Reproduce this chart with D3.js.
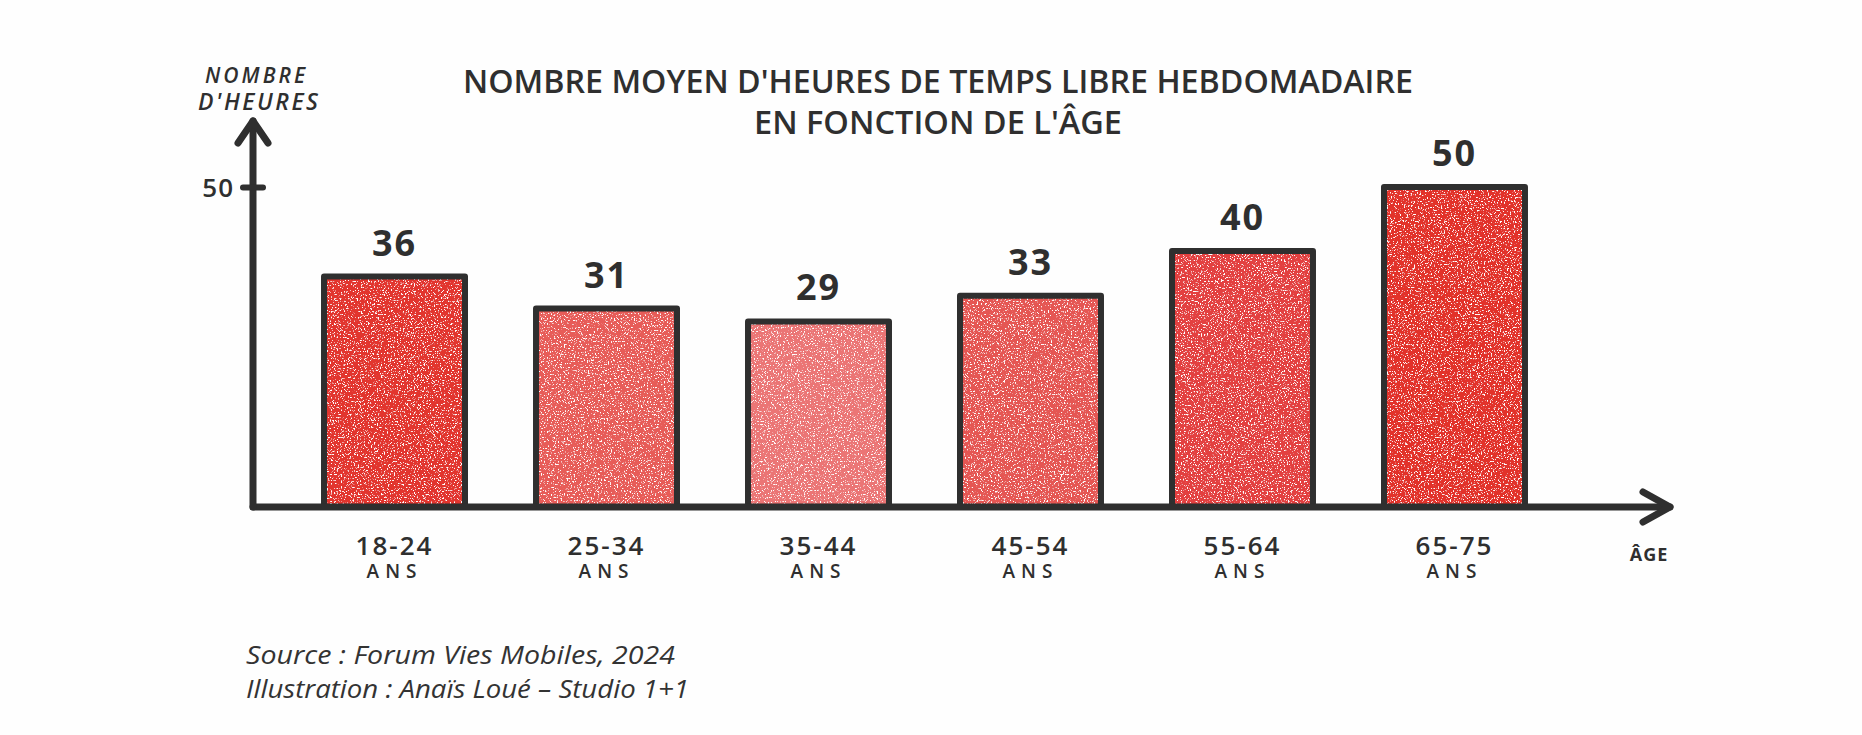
<!DOCTYPE html>
<html lang="fr">
<head>
<meta charset="utf-8">
<title>Temps libre hebdomadaire</title>
<script src="https://d3js.org/d3.v7.min.js"></script>
<style>
  body { margin: 0; background: #fefefe; }
  svg text { fill: #2f2f2f; }
</style>
</head>
<body>
<div id="chart"></div>
<script>
// data
var ages = ["18-24", "25-34", "35-44", "45-54", "55-64", "65-75"];
var heures = [36, 31, 29, 33, 40, 50];
var couleurs = ["#e2342e", "#e75c59", "#eb7474", "#e55653", "#e34140", "#e2322b"];
var yTicks = [50];
var titre = ["NOMBRE MOYEN D'HEURES DE TEMPS LIBRE HEBDOMADAIRE", "EN FONCTION DE L'ÂGE"];
var yLabel = ["NOMBRE", "D'HEURES"];
var sources = ["Source : Forum Vies Mobiles, 2024", "Illustration : Anaïs Loué – Studio 1+1"];

var W = 1862, H = 735;
var ink = "#2f2f2f";
var font = "'Open Sans', sans-serif";

var svg = d3.select("#chart").append("svg")
    .attr("width", W)
    .attr("height", H);

// speckle texture for the bars
var defs = svg.append("defs");
var f = defs.append("filter").attr("id", "speckle")
    .attr("x", 0).attr("y", 0).attr("width", "100%").attr("height", "100%");
f.append("feTurbulence")
    .attr("type", "fractalNoise").attr("baseFrequency", 0.7)
    .attr("numOctaves", 2).attr("seed", 7).attr("result", "noise");
f.append("feColorMatrix")
    .attr("in", "noise").attr("type", "matrix")
    .attr("values", "0 0 0 0 1  0 0 0 0 1  0 0 0 0 1  9 0 0 0 -5.3")
    .attr("result", "dots");
f.append("feComposite").attr("in", "dots").attr("in2", "SourceAlpha")
    .attr("operator", "in").attr("result", "clipped");
f.append("feMerge").selectAll("feMergeNode")
    .data(["SourceGraphic", "clipped"]).enter()
    .append("feMergeNode").attr("in", function(d) { return d; });

// scales
var x = d3.scaleBand()
    .domain(ages)
    .range([253, 1596])
    .padding(0.335);

var y = d3.scaleLinear()
    .domain([0, 50])
    .range([507, 187]);

var data = ages.map(function(a, i) { return {age: a, v: heures[i], c: couleurs[i]}; });

// bars: textured fill then outline
var bars = svg.append("g");
bars.selectAll(".fill")
  .data(data).enter().append("rect")
    .attr("class", "fill")
    .attr("x", function(d) { return x(d.age); })
    .attr("y", function(d) { return y(d.v); })
    .attr("width", x.bandwidth())
    .attr("height", function(d) { return y(0) - y(d.v); })
    .attr("fill", function(d) { return d.c; })
    .attr("filter", "url(#speckle)");
bars.selectAll(".edge")
  .data(data).enter().append("rect")
    .attr("class", "edge")
    .attr("x", function(d) { return x(d.age); })
    .attr("y", function(d) { return y(d.v); })
    .attr("width", x.bandwidth())
    .attr("height", function(d) { return y(0) - y(d.v); })
    .attr("fill", "none")
    .attr("stroke", ink)
    .attr("stroke-width", 6)
    .attr("stroke-linejoin", "round");

// value labels
svg.append("g").selectAll("text")
  .data(data).enter().append("text")
    .attr("x", function(d) { return x(d.age) + x.bandwidth() / 2; })
    .attr("y", function(d) { return y(d.v) - 21; })
    .attr("text-anchor", "middle")
    .style("font-family", font)
    .style("font-weight", 700)
    .style("font-size", "36px")
    .style("letter-spacing", "2px")
    .text(function(d) { return d.v; });

// axes: lines + arrows
var axes = svg.append("g")
    .attr("stroke", ink)
    .attr("stroke-width", 7)
    .attr("stroke-linecap", "round")
    .attr("stroke-linejoin", "round")
    .attr("fill", "none");
var x0 = x.range()[0], xEnd = 1670, yTop = 121;
axes.append("line").attr("x1", x0).attr("y1", y(0)).attr("x2", xEnd).attr("y2", y(0));
axes.append("line").attr("x1", x0).attr("y1", y(0)).attr("x2", x0).attr("y2", yTop);
axes.append("path").attr("d", d3.line()([[xEnd - 27, y(0) - 15], [xEnd, y(0)], [xEnd - 27, y(0) + 15]]));
axes.append("path").attr("d", d3.line()([[x0 - 15, yTop + 22], [x0, yTop], [x0 + 15, yTop + 22]]));

// y ticks
var yAxis = svg.append("g")
    .attr("transform", "translate(" + x0 + ",0)")
    .call(d3.axisLeft(y).tickValues(yTicks).tickSize(10).tickPadding(10));
yAxis.select(".domain").remove();
yAxis.selectAll(".tick line")
    .attr("x2", 10).attr("x1", -10)
    .attr("stroke", ink).attr("stroke-width", 6).attr("stroke-linecap", "round");
yAxis.selectAll(".tick text")
    .attr("x", -19)
    .attr("dy", "0.36em")
    .style("font-family", font)
    .style("font-weight", 600)
    .style("font-size", "26px")
    .style("letter-spacing", "1px")
    .style("fill", ink);

// x labels
var xl = svg.append("g").selectAll("g")
  .data(ages).enter().append("g")
    .attr("transform", function(d) { return "translate(" + (x(d) + x.bandwidth() / 2) + ",0)"; });
xl.append("text")
    .attr("y", 555)
    .attr("text-anchor", "middle")
    .style("font-family", font)
    .style("font-weight", 600)
    .style("font-size", "26px")
    .style("letter-spacing", "2px")
    .text(function(d) { return d; });
xl.append("text")
    .attr("y", 578)
    .attr("text-anchor", "middle")
    .style("font-family", font)
    .style("font-weight", 600)
    .style("font-size", "19px")
    .style("letter-spacing", "6px")
    .text("ANS");

svg.append("text")
    .attr("x", 1649).attr("y", 561)
    .attr("text-anchor", "middle")
    .style("font-family", font)
    .style("font-weight", 700)
    .style("font-size", "18px")
    .style("letter-spacing", "1px")
    .text("ÂGE");

// y label
svg.append("g").selectAll("text")
  .data(yLabel).enter().append("text")
    .attr("x", function(d, i) { return i ? 258 : 255; })
    .attr("y", function(d, i) { return i ? 110 : 83; })
    .attr("text-anchor", "middle")
    .attr("textLength", function(d, i) { return i ? 120 : 100; })
    .attr("lengthAdjust", "spacing")
    .style("font-family", font)
    .style("font-style", "italic")
    .style("font-weight", 600)
    .style("font-size", function(d, i) { return i ? "23px" : "21px"; })
    .text(function(d) { return d; });

// title
svg.append("g").selectAll("text")
  .data(titre).enter().append("text")
    .attr("x", 938)
    .attr("y", function(d, i) { return i ? 134 : 93; })
    .attr("text-anchor", "middle")
    .attr("textLength", function(d, i) { return i ? 368 : 950; })
    .attr("lengthAdjust", "spacingAndGlyphs")
    .style("font-family", font)
    .style("font-weight", 600)
    .style("font-size", "32px")
    .text(function(d) { return d; });

// source
svg.append("g").selectAll("text")
  .data(sources).enter().append("text")
    .attr("x", 246)
    .attr("y", function(d, i) { return 664 + i * 34; })
    .attr("textLength", function(d, i) { return i ? 443 : 429; })
    .attr("lengthAdjust", "spacingAndGlyphs")
    .style("font-family", font)
    .style("font-style", "italic")
    .style("font-size", "25px")
    .style("fill", "#333")
    .text(function(d) { return d; });
</script>
</body>
</html>
